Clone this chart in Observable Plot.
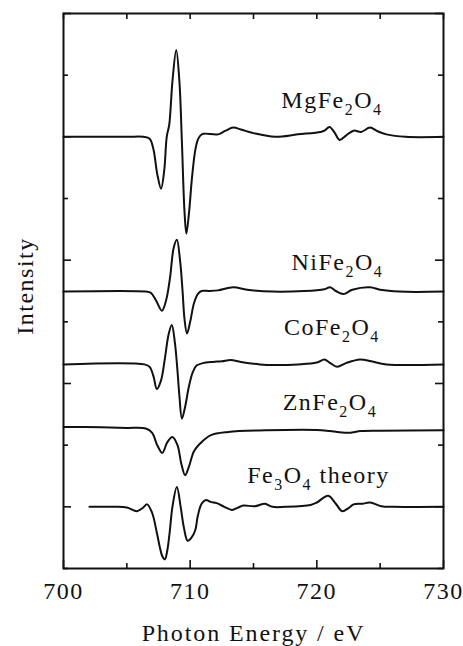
<!DOCTYPE html>
<html><head><meta charset="utf-8">
<script src="https://cdn.jsdelivr.net/npm/d3@7"></script>
<script src="https://cdn.jsdelivr.net/npm/@observablehq/plot@0.6"></script>
<style>body{margin:0;background:#fff}</style>
</head><body><div id="chart"></div>
<script>
// Photon energy (eV) and stacked intensity (arbitrary units, already offset)
const energyMg = [700,705,706.3,706.8,707.1,707.4,707.7,707.95,708.15,708.35,708.6,708.9,709.15,709.35,709.55,709.7,709.9,710.15,710.4,710.6,710.8,711.05,712.2,712.8,713.4,714,715,716.7,718.5,720.3,720.6,721.0,721.4,721.8,722.3,722.9,723.5,724.2,724.8,725.5,727,730];
const intensityMg = [7,7,7,6.97,6.8,6.4,6.16,6.45,7.0,7.2,7.9,8.41,7.9,6.9,5.8,5.43,5.75,6.35,6.78,6.95,7.02,7.05,7.04,7.1,7.15,7.12,7.06,7.0,7.04,7.08,7.1,7.16,7.07,6.95,7.02,7.1,7.08,7.15,7.09,7.04,7.0,7.0];

const energyNi = [700,706.5,706.9,707.3,707.77,708.1,708.4,708.7,708.95,709.2,709.4,709.55,709.75,710.0,710.3,710.6,710.9,711.5,712.2,713.4,714.5,716.5,719,720.6,721.05,721.5,722.1,722.8,724.2,725,726.5,730];
const intensityNi = [4.49,4.49,4.47,4.35,4.18,4.35,4.7,5.2,5.33,5.0,4.5,4.05,3.81,4.0,4.3,4.45,4.5,4.5,4.51,4.56,4.52,4.49,4.5,4.53,4.56,4.5,4.45,4.52,4.56,4.52,4.49,4.49];

const energyCo = [700,706.4,706.8,707.1,707.37,707.7,708.0,708.3,708.55,708.8,709.0,709.15,709.35,709.6,709.9,710.2,710.5,711.0,711.8,712.5,713.2,714,715.5,716.7,718.5,720.0,720.6,721.0,721.6,722.3,723.4,724.3,725.5,730];
const intensityCo = [3.31,3.31,3.27,3.12,2.91,3.05,3.4,3.8,3.95,3.65,3.2,2.8,2.43,2.62,2.95,3.18,3.29,3.33,3.35,3.36,3.38,3.35,3.31,3.3,3.31,3.34,3.39,3.34,3.27,3.33,3.39,3.36,3.31,3.31];

const energyZn = [700,703,705,706.5,707.0,707.4,707.8,708.2,708.6,709.0,709.3,709.6,709.9,710.3,710.8,711.6,713,716,720,721,722.4,723.5,725,730];
const intensityZn = [2.296,2.29,2.28,2.27,2.2,2.0,1.875,2.05,2.134,2.0,1.7,1.513,1.65,1.9,2.03,2.16,2.215,2.24,2.245,2.23,2.2,2.23,2.235,2.24];

const energyFe = [702.05,704,705,705.8,706.3,706.6,707.0,707.35,707.6,707.8,708.0,708.2,708.4,708.6,708.95,709.25,709.5,709.8,710.1,710.4,710.6,710.9,711.25,711.6,712.1,712.7,713.3,713.8,714.2,715.1,715.9,716.5,717.5,719.5,720.0,720.9,721.5,722.0,722.5,722.9,723.6,724.2,725.1,726,730];
const intensityFe = [1.0,1.0,0.99,0.93,0.99,1.04,0.9,0.6,0.35,0.2,0.15,0.3,0.62,1.0,1.32,1.0,0.67,0.45,0.5,0.62,0.85,1.05,1.11,1.08,1.06,1.0,0.95,0.99,1.02,1.01,1.05,1.0,1.0,1.03,1.07,1.18,1.05,0.93,0.98,1.04,1.05,1.07,1.01,1.0,1.0];

const labelNames = ["MgFe_2O_4","NiFe_2O_4","CoFe_2O_4","ZnFe_2O_4","Fe_3O_4 theory"];
const labelEnergy = [717.2,718.0,717.4,717.3,714.5];
const labelIntensity = [7.46,4.84,3.78,2.57,1.39];

const xMajorTicks = [700,710,720,730];
const xMinorTicks = [705,715,725];
const yMajorTicks = [1,3,5,7,9];
const yMinorTicks = [0,2,4,6,8];

const series = [
  ["MgFe2O4", energyMg, intensityMg],
  ["NiFe2O4", energyNi, intensityNi],
  ["CoFe2O4", energyCo, intensityCo],
  ["ZnFe2O4", energyZn, intensityZn],
  ["Fe3O4 theory", energyFe, intensityFe]
];
const rows = series.flatMap(([name, xs, ys]) => xs.map((x, i) => ({name, x, y: ys[i]})));
const labels = labelNames.map((t, i) => ({t, x: labelEnergy[i], y: labelIntensity[i]}));

const W = 463, H = 646, mL = 63, mR = 20, mT = 13, mB = 78;
const pw = W - mL - mR, ph = H - mT - mB;

const plot = Plot.plot({
  width: W, height: H,
  marginLeft: mL, marginRight: mR, marginTop: mT, marginBottom: mB,
  style: {fontFamily: "Liberation Serif, serif", fontSize: "24px", letterSpacing: "1.5px", color: "#111", background: "#fff"},
  x: {domain: [700, 730], ticks: xMajorTicks, tickSize: 0, tickPadding: 13, tickFormat: d => String(d), label: null},
  y: {domain: [0, 9], axis: null},
  marks: [
    Plot.line(rows, {x: "x", y: "y", z: "name", stroke: "#111", strokeWidth: 2, curve: "catmull-rom"}),
    Plot.tickX(xMajorTicks, {x: d => d, insetTop: ph - 8, stroke: "#111", strokeWidth: 1.6}),
    Plot.tickX(xMinorTicks, {x: d => d, insetTop: ph - 5, stroke: "#111", strokeWidth: 1.6}),
    Plot.tickX(xMajorTicks.concat(xMinorTicks), {x: d => d, insetBottom: ph - 6, stroke: "#111", strokeWidth: 1.6}),
    Plot.tickY(yMajorTicks, {y: d => d, insetRight: pw - 8, stroke: "#111", strokeWidth: 1.6}),
    Plot.tickY(yMinorTicks, {y: d => d, insetRight: pw - 5, stroke: "#111", strokeWidth: 1.6}),
    Plot.tickY(yMajorTicks, {y: d => d, insetLeft: pw - 8, stroke: "#111", strokeWidth: 1.6}),
    Plot.tickY(yMinorTicks, {y: d => d, insetLeft: pw - 5, stroke: "#111", strokeWidth: 1.6}),
    Plot.frame({stroke: "#111", strokeWidth: 2}),
    Plot.text(labels, {x: "x", y: "y", text: "t", textAnchor: "start", lineAnchor: "bottom", fill: "#111"}),
    Plot.text(["Photon Energy / eV"], {frameAnchor: "bottom", textAnchor: "middle", dy: 72, lineAnchor: "bottom", fill: "#111"}),
    Plot.text(["Intensity"], {frameAnchor: "left", textAnchor: "middle", dx: -31, dy: -5, rotate: -90, lineAnchor: "bottom", fill: "#111"})
  ]
});

// render chemical subscripts and fine-tune spacing of the axis title
d3.select(plot).selectAll("text").each(function() {
  const t = this.textContent;
  if (t === "Photon Energy / eV") { d3.select(this).style("letter-spacing", "1.9px"); return; }
  if (!t.includes("_")) return;
  const sel = d3.select(this);
  sel.text(null);
  const parts = t.split(/_(\d)/);
  parts.forEach((p, i) => {
    if (!p) return;
    if (i % 2 === 1) sel.append("tspan").attr("font-size", "16px").attr("dy", 7).text(p);
    else { const ts = sel.append("tspan").text(p); if (i > 0) ts.attr("dy", -7); }
  });
});

document.getElementById("chart").appendChild(plot);
</script>
</body></html>
